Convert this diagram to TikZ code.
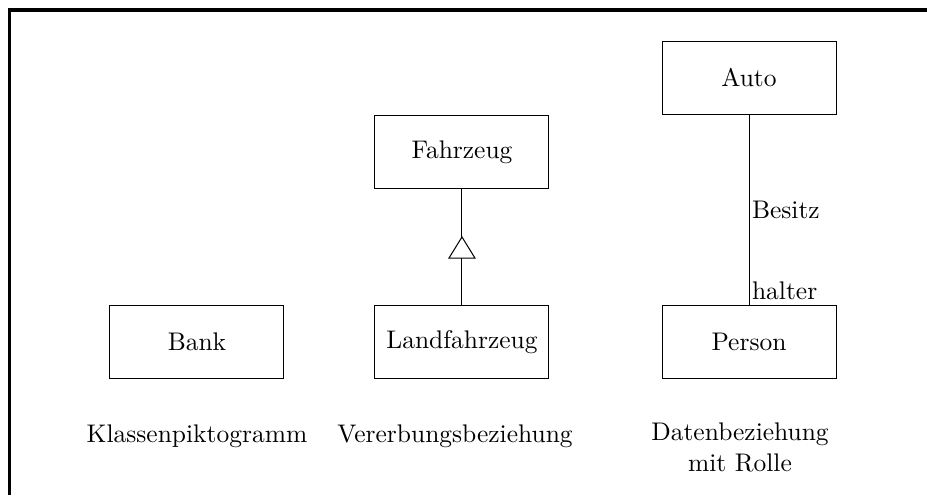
\documentclass[tikz,border=0pt]{standalone}
\usetikzlibrary{arrows.meta,calc,positioning}
\begin{document}
\begin{tikzpicture}[klasse/.style={draw,line width=.4pt,minimum width=2.4cm,minimum height=1cm,inner sep=0pt}]
 \useasboundingbox(0,0)rectangle(12.786,6.828);
 \draw[line width=1.4pt](0.131,0)--(0.131,6.690)--(12.786,6.690);
 \node[klasse](bank)at(2.717,2.110){Bank};
 \node[klasse](fahr)at(6.372,4.731){Fahrzeug};
 \node[klasse](land)at(6.372,2.110){Landfahrzeug};
 \node[klasse](auto)at(10.331,5.752){Auto};
 \node[klasse](person)at(10.331,2.110){Person};
 \coordinate(spitze)at(6.372,3.559);
 \coordinate(basis)at(6.372,3.269);
 \draw(fahr)--(spitze);
 \draw(spitze)--($(basis)+(-.179,0)$)--($(basis)+(.179,0)$)--cycle;
 \draw(basis)--(land);
 \draw(auto)--node[right,inner sep=1pt]{Besitz}(person);
 \node[anchor=south west,inner sep=2pt,xshift=-1pt]at(person.north){halter};
 \node at(2.717,0.814){Klassenpiktogramm};
 \node at(6.276,0.814){Vererbungsbeziehung};
 \node[align=center,inner sep=1pt]at(10.207,0.660){Datenbeziehung\\mit Rolle};
\end{tikzpicture}
\end{document}
